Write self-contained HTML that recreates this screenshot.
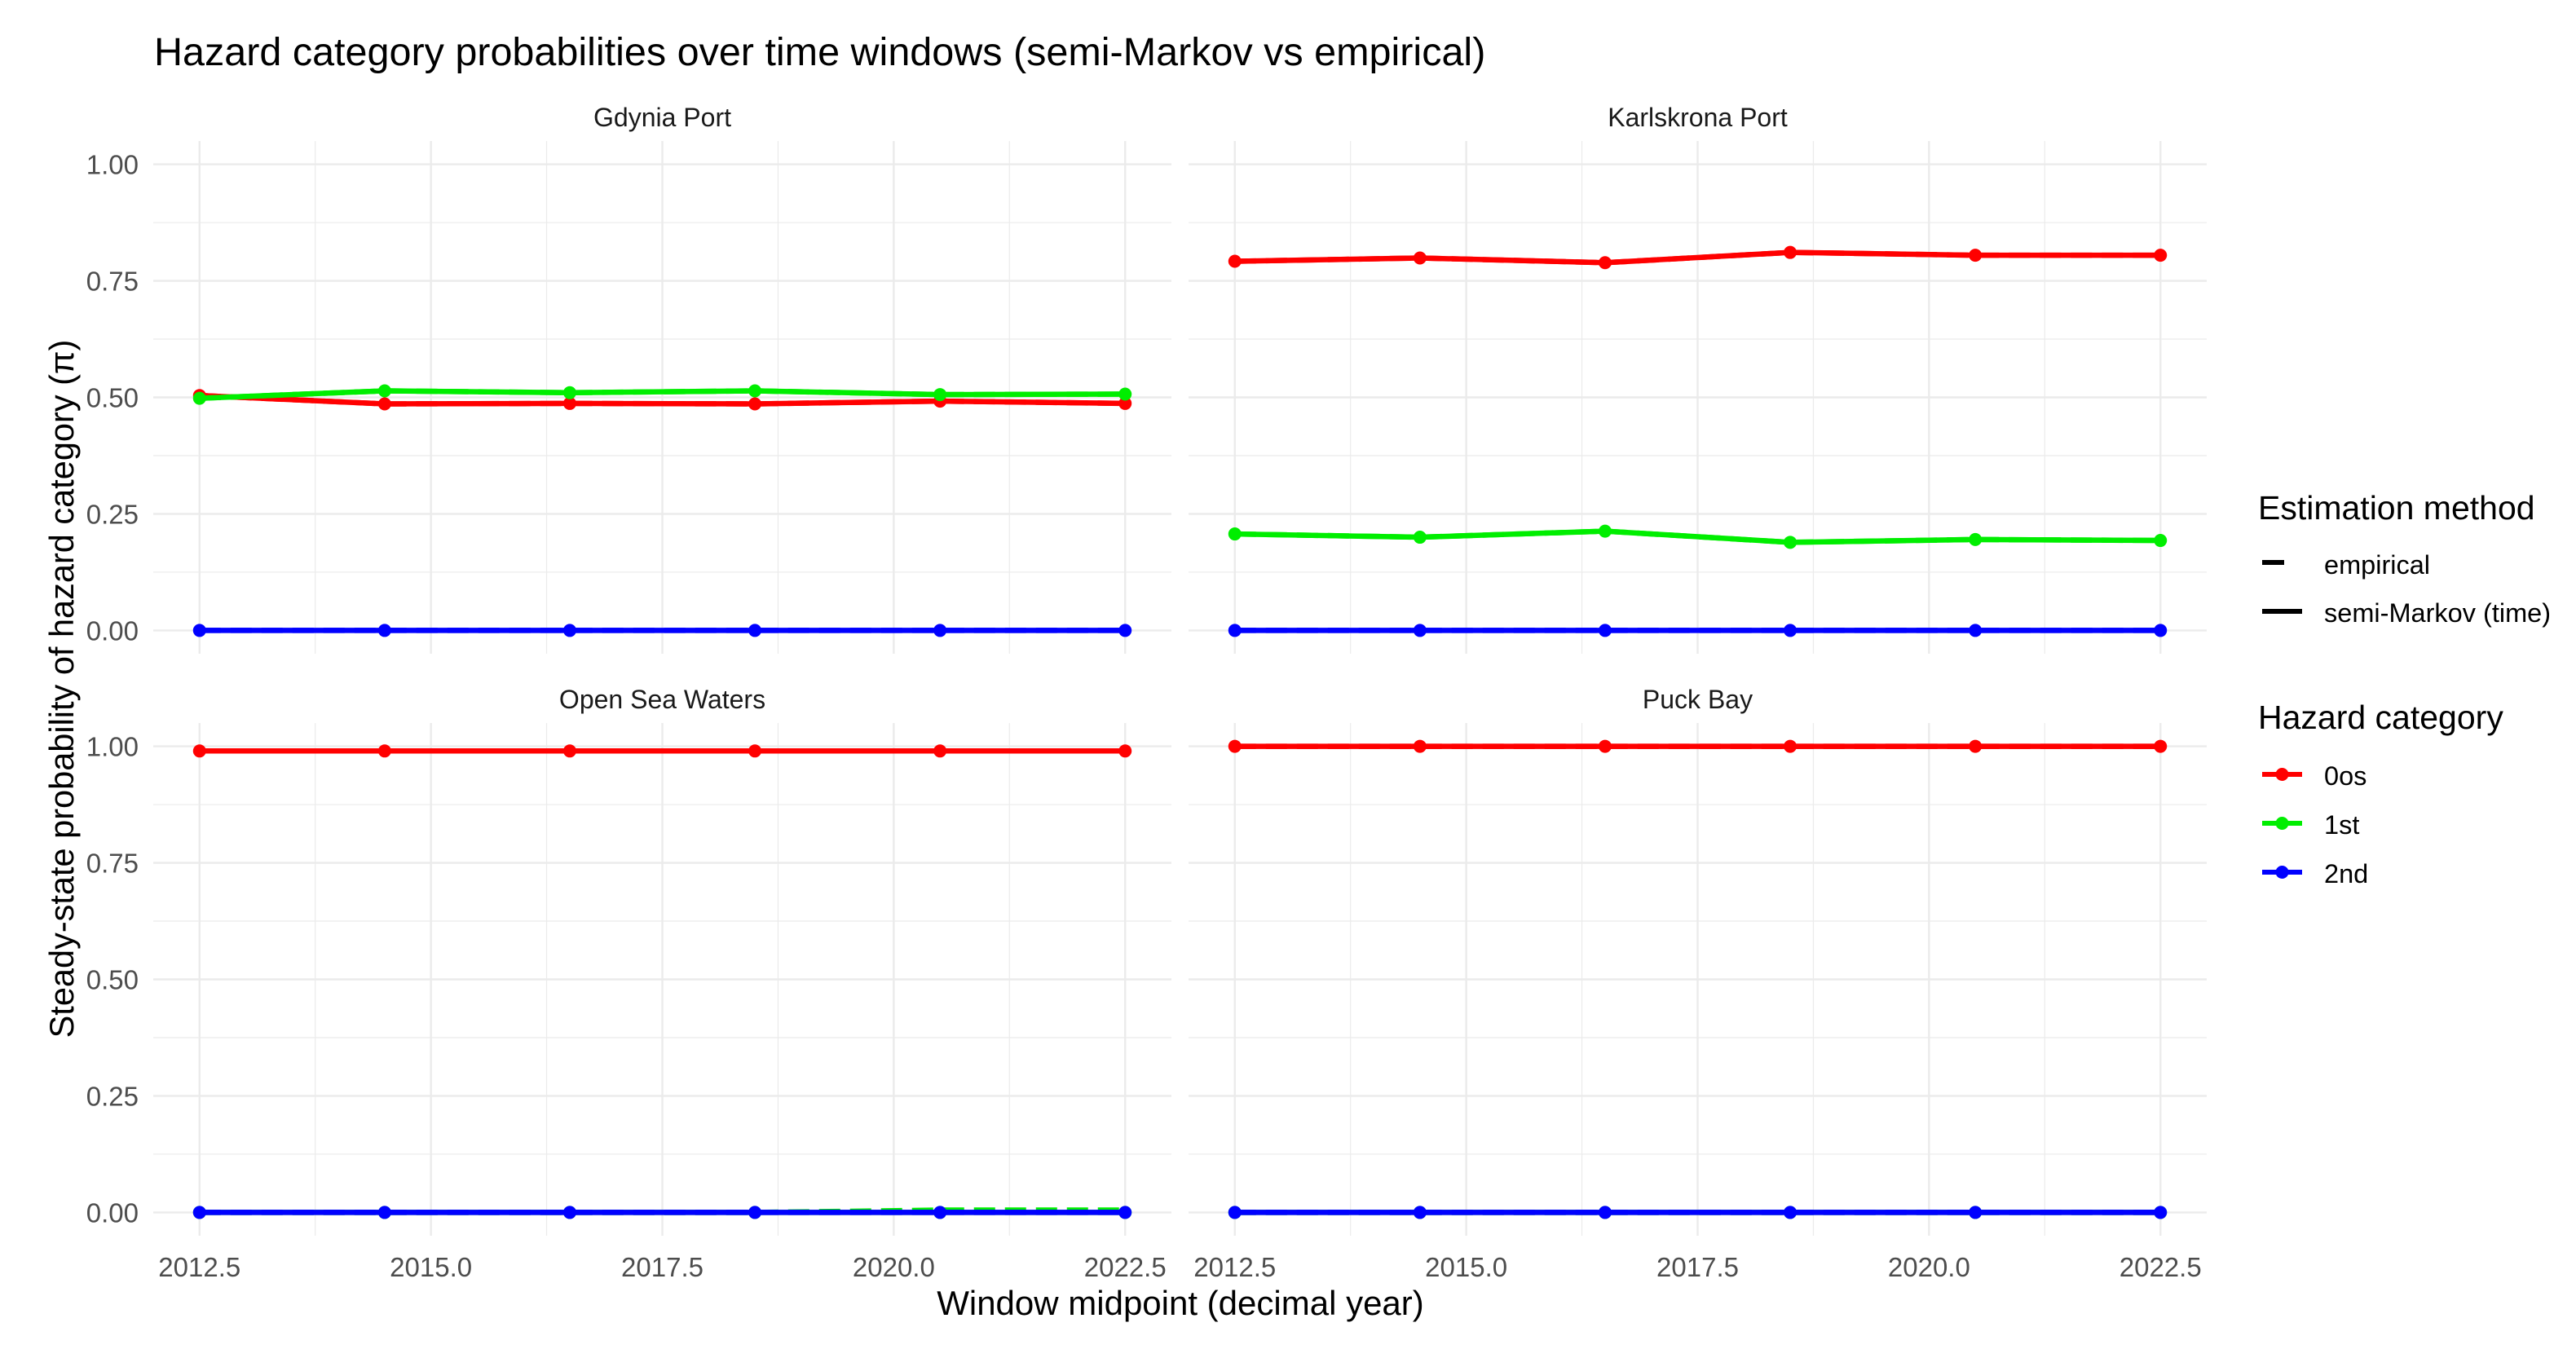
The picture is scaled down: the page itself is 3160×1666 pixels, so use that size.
<!DOCTYPE html>
<html><head><meta charset="utf-8"><style>
html,body{margin:0;padding:0;background:#fff;}
svg{display:block;font-family:"Liberation Sans",Arial,sans-serif;}
</style></head><body>
<svg id="chart" width="3160" height="1666" viewBox="0 0 3160 1666" xmlns="http://www.w3.org/2000/svg">
<rect width="3160" height="1666" fill="#fff"/>
<text x="189" y="80" font-size="48.5" fill="#000">Hazard category probabilities over time windows (semi-Markov vs empirical)</text>
<text transform="translate(90,845) rotate(-90)" text-anchor="middle" font-size="41.5" fill="#000">Steady-state probability of hazard category (π)</text>
<text x="1448" y="1613" text-anchor="middle" font-size="42" fill="#000">Window midpoint (decimal year)</text>
<g id="panels"></g>
<g>
<text x="2770" y="637" font-size="41" fill="#000">Estimation method</text>
<line x1="2775" y1="690" x2="2802" y2="690" stroke="#000" stroke-width="6"/>
<text x="2851" y="704" font-size="32.5" fill="#000">empirical</text>
<line x1="2775" y1="750" x2="2824" y2="750" stroke="#000" stroke-width="6"/>
<text x="2851" y="763" font-size="32.5" fill="#000">semi-Markov (time)</text>
<text x="2770" y="894" font-size="41" fill="#000">Hazard category</text>
<g id="hazleg"></g>
</g>
</svg>
<script>
const years = [2012.5, 2014.5, 2016.5, 2018.5, 2020.5, 2022.5];
const categories = ["0os", "1st", "2nd"];
const panelNames = ["Gdynia Port", "Karlskrona Port", "Open Sea Waters", "Puck Bay"];
const xTicks = [2012.5, 2015.0, 2017.5, 2020.0, 2022.5];
const xTickLabels = ["2012.5", "2015.0", "2017.5", "2020.0", "2022.5"];
const yTicks = [0, 0.25, 0.5, 0.75, 1.0];
const yTickLabels = ["0.00", "0.25", "0.50", "0.75", "1.00"];
// values per panel: [0os, 1st, 2nd]
const gdyniaSM = [[0.504,0.486,0.487,0.486,0.492,0.487],[0.498,0.514,0.510,0.514,0.506,0.507],[0,0,0,0,0,0]];
const gdyniaEmp = [[0.504,0.486,0.487,0.486,0.492,0.487],[0.498,0.514,0.510,0.514,0.506,0.507],[0,0,0,0,0,0]];
const karlsSM = [[0.792,0.799,0.789,0.811,0.805,0.805],[0.207,0.200,0.213,0.189,0.195,0.193],[0,0,0,0,0,0]];
const karlsEmp = [[0.792,0.799,0.789,0.811,0.805,0.805],[0.207,0.200,0.213,0.189,0.195,0.193],[0,0,0,0,0,0]];
const openSM = [[0.99,0.99,0.99,0.99,0.99,0.99],[0,0,0,0,0,0],[0,0,0,0,0,0]];
const openEmp = [[0.99,0.99,0.99,0.99,0.99,0.99],[0,0,0,0,0.005,0.005],[0,0,0,0,0,0]];
const puckSM = [[1,1,1,1,1,1],[0,0,0,0,0,0],[0,0,0,0,0,0]];
const puckEmp = [[1,1,1,1,1,1],[0,0,0,0,0,0],[0,0,0,0,0,0]];

const smData = [gdyniaSM, karlsSM, openSM, puckSM];
const empData = [gdyniaEmp, karlsEmp, openEmp, puckEmp];
const colors = ["#ff0000", "#00ee00", "#0000ff"];
const NS = "http://www.w3.org/2000/svg";
const panelBoxes = [[188,173],[1458,173],[188,887],[1458,887]];
const PW = 1249, PH = 629;
const xMin = 2012.0, xMax = 2023.0, yMin = -0.05, yMax = 1.05;

function mk(tag, attrs, parent){const e=document.createElementNS(NS,tag);for(const k in attrs)e.setAttribute(k,attrs[k]);parent.appendChild(e);return e;}

const root = document.getElementById("panels");
panelBoxes.forEach((b,p)=>{
  const x0=b[0], y0=b[1];
  const sx = v => x0 + (v - xMin)/(xMax - xMin)*PW;
  const sy = v => y0 + (yMax - v)/(yMax - yMin)*PH;
  const g = mk("g",{},root);
  
  
  for (let i=0;i<xTicks.length-1;i++){
    const v=(xTicks[i]+xTicks[i+1])/2;
    const l=mk("line",{x1:sx(v),x2:sx(v),y1:y0,y2:y0+PH,stroke:"#ebebeb","stroke-width":1.2},g);
    
    
  }
  for (let i=0;i<yTicks.length-1;i++){
    const v=(yTicks[i]+yTicks[i+1])/2;
    const l=mk("line",{y1:sy(v),y2:sy(v),x1:x0,x2:x0+PW,stroke:"#ebebeb","stroke-width":1.2},g);
    
    
  }
  xTicks.forEach((v,i)=>{
    const l=mk("line",{x1:sx(v),x2:sx(v),y1:y0,y2:y0+PH,stroke:"#ebebeb","stroke-width":2.4},g);
    
    
    if (p>=2){
      const t=mk("text",{x:sx(v),y:1566,"text-anchor":"middle","font-size":33,fill:"#4d4d4d"},g);
      t.textContent=xTickLabels[i];
      
      
    }
  });
  yTicks.forEach((v,i)=>{
    const l=mk("line",{y1:sy(v),y2:sy(v),x1:x0,x2:x0+PW,stroke:"#ebebeb","stroke-width":2.4},g);
    
    
    if (p%2===0){
      const t=mk("text",{x:170,y:sy(v)+12,"text-anchor":"end","font-size":33,fill:"#4d4d4d"},g);
      t.textContent=yTickLabels[i];
      
      
    }
  });
  const st=mk("text",{x:x0+PW/2,y:y0-18,"text-anchor":"middle","font-size":32,fill:"#1a1a1a"},g);
  st.textContent=panelNames[p];
  
  
  categories.forEach((c,ci)=>{
    const pts = d => years.map((yr,k)=>sx(yr)+","+sy(d[ci][k])).join(" ");
    const ls=mk("polyline",{points:pts(smData[p]),fill:"none",stroke:colors[ci],"stroke-width":6.5,"stroke-linejoin":"round"},g);
    
    
    const le=mk("polyline",{points:pts(empData[p]),fill:"none",stroke:colors[ci],"stroke-width":6.5,"stroke-dasharray":"26 12"},g);
    
    
    years.forEach((yr,k)=>{
      const pt=mk("circle",{cx:sx(yr),cy:sy(smData[p][ci][k]),r:8,fill:colors[ci]},g);
      
      
    });
  });
});
const hl = document.getElementById("hazleg");
const legY = [950, 1010, 1070];
categories.forEach((c,i)=>{
  const l=mk("line",{x1:2775,x2:2824,y1:legY[i],y2:legY[i],stroke:colors[i],"stroke-width":6},hl);
  
  
  const ci=mk("circle",{cx:2799.5,cy:legY[i],r:8,fill:colors[i]},hl);
  
  
  const t=mk("text",{x:2851,y:legY[i]+13,"font-size":32.5,fill:"#000"},hl);
  t.textContent=c;
  
  
});
</script>
</body></html>
